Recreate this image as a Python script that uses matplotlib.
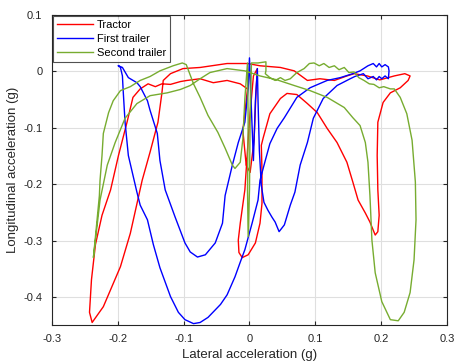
import matplotlib
matplotlib.use('Agg')
import matplotlib.pyplot as plt
import numpy as np

plt.rcParams['font.family'] = ['Liberation Sans', 'DejaVu Sans']
plt.rcParams['axes.unicode_minus'] = False

# Tractor (red)
tractor_x = [-0.003, -0.010, -0.005, 0.001, 0.007, 0.010, 0.012, 0.006, 0.000, -0.007,
             -0.014, -0.017, -0.016, -0.011, -0.002, 0.009, 0.016, 0.019, 0.019, 0.018,
             0.021, 0.031, 0.047, 0.057, 0.072, 0.088, 0.103, 0.118, 0.133, 0.148,
             0.157, 0.165, 0.176, 0.183, 0.191, 0.195, 0.197, 0.195, 0.194, 0.195,
             0.203, 0.214, 0.229, 0.241, 0.244, 0.236, 0.220, 0.198, 0.179, 0.159,
             0.148, 0.129, 0.107, 0.088, 0.068, 0.047, 0.016, -0.003, -0.034, -0.075,
             -0.101, -0.120, -0.131, -0.133, -0.139, -0.151, -0.163, -0.181, -0.196, -0.222,
             -0.239, -0.243, -0.240, -0.234, -0.224, -0.211, -0.199, -0.186, -0.177, -0.166,
             -0.154, -0.143, -0.133, -0.120, -0.105, -0.095, -0.075, -0.055, -0.034, -0.014,
             -0.003]
tractor_y = [-0.031, -0.105, -0.166, -0.179, -0.122, -0.034, 0.005, -0.008, -0.087, -0.210,
             -0.269, -0.299, -0.321, -0.330, -0.325, -0.304, -0.269, -0.234, -0.175, -0.131,
             -0.117, -0.075, -0.048, -0.039, -0.041, -0.057, -0.073, -0.101, -0.126, -0.161,
             -0.196, -0.228, -0.251, -0.267, -0.290, -0.284, -0.255, -0.210, -0.149, -0.090,
             -0.055, -0.038, -0.029, -0.016, -0.008, -0.004, -0.008, -0.015, -0.008, -0.004,
             -0.008, -0.016, -0.013, -0.016, 0.001, 0.007, 0.010, 0.014, 0.014, 0.007,
             0.005, -0.004, -0.016, -0.038, -0.090, -0.143, -0.193, -0.287, -0.346, -0.417,
             -0.445, -0.427, -0.369, -0.307, -0.255, -0.210, -0.149, -0.090, -0.046, -0.031,
             -0.022, -0.027, -0.022, -0.023, -0.018, -0.016, -0.013, -0.020, -0.016, -0.022,
             -0.031]

# First trailer (blue)
first_x = [-0.199, -0.196, -0.193, -0.192, -0.189, -0.184, -0.178, -0.171, -0.166, -0.155,
           -0.146, -0.136, -0.120, -0.108, -0.098, -0.085, -0.075, -0.063, -0.044, -0.034,
           -0.022, -0.014, -0.007, 0.004, 0.013, 0.016, 0.024, 0.031, 0.042, 0.053,
           0.072, 0.092, 0.118, 0.138, 0.157, 0.168, 0.176, 0.180, 0.188, 0.193,
           0.197, 0.201, 0.206, 0.211, 0.212, 0.211, 0.206, 0.201, 0.197, 0.193,
           0.188, 0.180, 0.173, 0.160, 0.153, 0.133, 0.112, 0.097, 0.088, 0.077,
           0.069, 0.062, 0.053, 0.045, 0.039, 0.034, 0.028, 0.022, 0.018, 0.015,
           0.013, 0.012, 0.009, 0.006, 0.003, 0.000, -0.002, -0.007, -0.017, -0.026,
           -0.037, -0.041, -0.052, -0.067, -0.079, -0.090, -0.098, -0.113, -0.128, -0.136,
           -0.140, -0.151, -0.155, -0.166, -0.171, -0.184, -0.193, -0.199]
first_y = [0.010, 0.007, -0.008, -0.031, -0.090, -0.149, -0.179, -0.214, -0.237, -0.263,
           -0.307, -0.348, -0.399, -0.427, -0.440, -0.447, -0.445, -0.436, -0.413, -0.396,
           -0.364, -0.338, -0.316, -0.269, -0.228, -0.193, -0.158, -0.128, -0.101, -0.082,
           -0.046, -0.029, -0.016, -0.011, -0.004, 0.001, 0.007, 0.010, 0.014, 0.008,
           0.014, 0.008, 0.012, 0.008, 0.001, -0.013, -0.008, -0.013, -0.009, -0.015,
           -0.009, -0.013, -0.004, -0.009, -0.013, -0.025, -0.048, -0.083, -0.126, -0.166,
           -0.214, -0.237, -0.272, -0.284, -0.267, -0.258, -0.246, -0.232, -0.202, -0.140,
           -0.052, 0.005, -0.052, -0.158, -0.069, 0.024, -0.031, -0.090, -0.126, -0.166,
           -0.220, -0.269, -0.304, -0.325, -0.329, -0.320, -0.304, -0.258, -0.210, -0.158,
           -0.110, -0.069, -0.052, -0.027, -0.020, -0.011, 0.007, 0.010]

# Second trailer (green)
second_x = [-0.237, -0.233, -0.228, -0.227, -0.224, -0.222, -0.214, -0.207, -0.196, -0.181,
            -0.166, -0.151, -0.136, -0.116, -0.102, -0.096, -0.085, -0.075, -0.063, -0.048,
            -0.037, -0.026, -0.022, -0.014, -0.010, -0.007, -0.003, -0.002, -0.003, -0.002,
            0.000, 0.001, 0.003, 0.013, 0.025, 0.025, 0.024, 0.031, 0.039, 0.047,
            0.054, 0.062, 0.072, 0.083, 0.091, 0.098, 0.106, 0.113, 0.121, 0.129,
            0.136, 0.144, 0.151, 0.159, 0.166, 0.174, 0.182, 0.189, 0.197, 0.204,
            0.214, 0.220, 0.229, 0.239, 0.247, 0.252, 0.253, 0.250, 0.244, 0.235,
            0.226, 0.214, 0.201, 0.191, 0.186, 0.183, 0.180, 0.176, 0.168, 0.157,
            0.144, 0.118, 0.092, 0.068, 0.042, 0.016, -0.007, -0.034, -0.060, -0.075,
            -0.090, -0.105, -0.125, -0.151, -0.171, -0.189, -0.204, -0.216, -0.227, -0.234,
            -0.237]
second_y = [-0.329, -0.281, -0.220, -0.193, -0.149, -0.110, -0.073, -0.052, -0.034, -0.027,
            -0.016, -0.009, 0.001, 0.010, 0.015, 0.012, -0.022, -0.046, -0.078, -0.108,
            -0.136, -0.166, -0.172, -0.161, -0.119, -0.048, 0.015, -0.087, -0.210, -0.293,
            -0.210, -0.087, 0.015, 0.015, 0.017, 0.001, -0.004, -0.011, -0.016, -0.011,
            -0.016, -0.013, -0.002, 0.005, 0.014, 0.015, 0.010, 0.014, 0.007, 0.010,
            0.003, 0.007, -0.002, -0.001, -0.011, -0.016, -0.022, -0.023, -0.029, -0.027,
            -0.031, -0.031, -0.046, -0.075, -0.122, -0.196, -0.263, -0.334, -0.392, -0.427,
            -0.442, -0.440, -0.408, -0.357, -0.299, -0.220, -0.161, -0.126, -0.096, -0.082,
            -0.064, -0.046, -0.034, -0.025, -0.015, -0.008, 0.001, 0.005, -0.002, -0.013,
            -0.025, -0.032, -0.038, -0.043, -0.057, -0.083, -0.126, -0.166, -0.228, -0.299,
            -0.329]

dark = '#262626'
fig = plt.figure(figsize=(4.54, 3.64), dpi=100)
ax = fig.add_axes([0.1145, 0.1063, 0.870, 0.8525])

ax.plot(tractor_x, tractor_y, color='#ff0000', lw=1.0, label='Tractor')
ax.plot(first_x, first_y, color='#0000ff', lw=1.0, label='First trailer')
ax.plot(second_x, second_y, color='#77ac30', lw=1.0, label='Second trailer')

ax.set_xlim(-0.3, 0.3)
ax.set_ylim(-0.45, 0.1)
ax.set_xticks(np.arange(-0.3, 0.31, 0.1))
ax.set_yticks(np.arange(-0.4, 0.11, 0.1))
ax.set_xticklabels(['-0.3', '-0.2', '-0.1', '0', '0.1', '0.2', '0.3'])
ax.set_yticklabels(['-0.4', '-0.3', '-0.2', '-0.1', '0', '0.1'])
ax.grid(True, color='#dfdfdf', lw=0.8)
ax.set_axisbelow(True)
ax.tick_params(direction='in', top=True, right=True, length=3, width=0.8,
               labelsize=8, colors=dark)
ax.tick_params(axis='x', pad=6)
ax.tick_params(axis='y', pad=7)
for s in ax.spines.values():
    s.set_color(dark)
    s.set_linewidth(0.8)

ax.set_xlabel('Lateral acceleration (g)', fontsize=9.5, color=dark, labelpad=4)
ax.set_ylabel('Longitudinal acceleration (g)', fontsize=9.5, color=dark, labelpad=3)

leg = ax.legend(loc='upper left', fontsize=8, frameon=True, fancybox=False,
                borderaxespad=0.12, handlelength=3.2, borderpad=0.35,
                labelspacing=0.35, handletextpad=0.4)
leg.get_frame().set_edgecolor(dark)
leg.get_frame().set_linewidth(0.8)

fig.savefig('out.png', dpi=100)
